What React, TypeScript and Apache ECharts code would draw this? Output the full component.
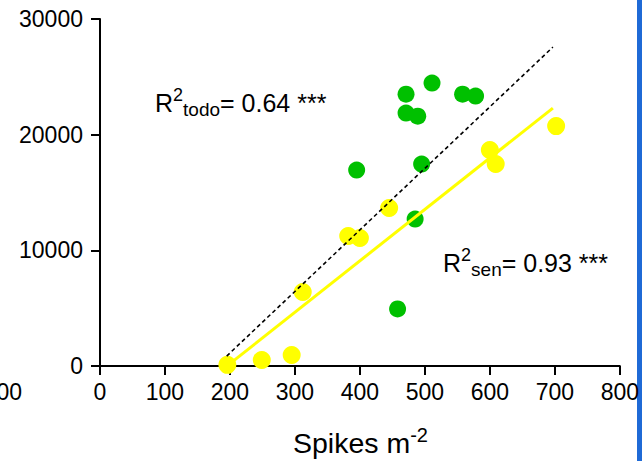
import React, { useEffect, useRef } from "react";
import * as echarts from "echarts";

// Spikes m-2 (x) vs yield (y)
const senX = [196, 249, 295, 312, 382, 400, 445, 600, 609, 702];
const senY = [100, 520, 950, 6400, 11240, 11060, 13660, 18670, 17460, 20740];
const otherX = [395, 458, 485, 471, 471, 489, 495, 511, 558, 578];
const otherY = [16940, 4930, 12700, 23500, 21870, 21600, 17460, 24460, 23500, 23340];
// regression line end points
const fitSenX = [200, 697];
const fitSenY = [200, 22300];
const fitTodoX = [195, 697];
const fitTodoY = [860, 27570];
const xTicks = [0, 800, 100];
const yTicks = [0, 30000, 10000];

const FONT = "Liberation Sans, Arial, Helvetica, sans-serif";

function txt(text: string, x: number, y: number, size: number, align = "left") {
  return {
    type: "text",
    x,
    y,
    silent: true,
    style: { text, fontSize: size, fontFamily: FONT, fill: "#000", align, verticalAlign: "middle" },
  };
}

function rText(text: string, x: number, y: number, rich: any) {
  return {
    type: "text",
    x,
    y,
    silent: true,
    style: { text, fontFamily: FONT, fill: "#000", align: "left", verticalAlign: "middle", rich },
  };
}

const rLabelRich = {
  m: { fontSize: 25, lineHeight: 33, fontFamily: FONT, fill: "#000", color: "#000" },
  p: { fontSize: 18, lineHeight: 18, verticalAlign: "top", fontFamily: FONT, fill: "#000", color: "#000" },
  b: { fontSize: 19, lineHeight: 22, verticalAlign: "bottom", fontFamily: FONT, fill: "#000", color: "#000" },
};

const titleRich = {
  m: { fontSize: 28.5, lineHeight: 37, fontFamily: FONT, fill: "#000", color: "#000" },
  p: { fontSize: 20, lineHeight: 20, verticalAlign: "top", fontFamily: FONT, fill: "#000", color: "#000" },
};

export default function App() {
  const ref = useRef<HTMLDivElement>(null);
  useEffect(() => {
    const chart = echarts.init(ref.current!, null, { renderer: "svg" });
    const axisCommon = {
      axisLine: { show: true, lineStyle: { color: "#000", width: 2 } },
      axisTick: { show: true, length: 9, inside: false, lineStyle: { color: "#000", width: 2 } },
      splitLine: { show: false },
    };
    chart.setOption({
      animation: false,
      backgroundColor: "#fff",
      grid: { left: 100, top: 19, width: 520, height: 347 },
      xAxis: {
        type: "value",
        min: xTicks[0],
        max: xTicks[1],
        interval: xTicks[2],
        ...axisCommon,
        axisLabel: { fontSize: 23, fontFamily: FONT, color: "#000", margin: 14, formatter: (v: number) => String(v) },
      },
      yAxis: {
        type: "value",
        min: yTicks[0],
        max: yTicks[1],
        interval: yTicks[2],
        ...axisCommon,
        axisLabel: { fontSize: 23, fontFamily: FONT, color: "#000", margin: 17, formatter: (v: number) => String(v) },
      },
      series: [
        {
          type: "scatter",
          data: senX.map((x, i) => [x, senY[i]]),
          symbolSize: 18,
          itemStyle: { color: "#ffff00", opacity: 1 },
          z: 2,
        },
        {
          type: "scatter",
          data: otherX.map((x, i) => [x, otherY[i]]),
          symbolSize: 17,
          itemStyle: { color: "#00c000", opacity: 1 },
          z: 2,
        },
        {
          type: "line",
          data: fitTodoX.map((x, i) => [x, fitTodoY[i]]),
          showSymbol: false,
          lineStyle: { color: "#000", width: 1.6, type: [4, 3] },
          z: 3,
        },
        {
          type: "line",
          data: fitSenX.map((x, i) => [x, fitSenY[i]]),
          showSymbol: false,
          lineStyle: { color: "#ffff00", width: 3 },
          z: 3,
        },
      ],
      graphic: [
        { type: "rect", shape: { x: 637, y: 0, width: 5, height: 461 }, style: { fill: "#1f6ad6" }, silent: true },
        txt("800", 22, 392, 23, "right"),
        rText("{m|R}{p|2}{b|todo}{m|= 0.64 ***}", 155, 102.5, rLabelRich),
        rText("{m|R}{p|2}{b|sen}{m|= 0.93 ***}", 443, 262.5, rLabelRich),
        rText("{m|Spikes m}{p|-2}", 293, 443, titleRich),
      ],
    });
    return () => chart.dispose();
  }, []);
  return (
    <div
      ref={ref}
      style={{ position: "fixed", left: 0, top: 0, width: 642, height: 461, background: "#fff" }}
    />
  );
}
